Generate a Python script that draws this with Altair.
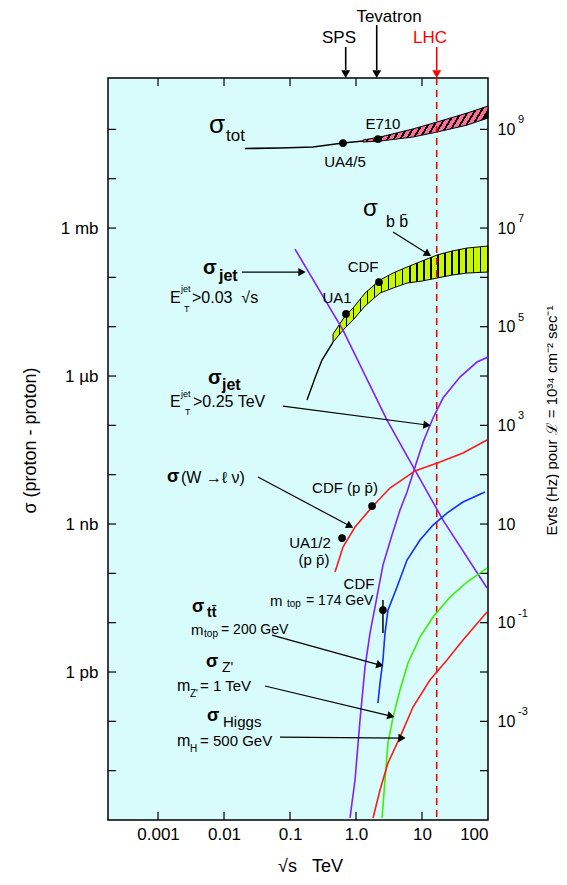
import altair as alt
import pandas as pd

FONT = "Liberation Sans"
W, H = 380, 742

# ---- scales: sqrt(s) in TeV (x), cross-section in mb (y) ----
X_DOMAIN = [1.746e-4, 100.0]
Y_DOMAIN = [1e-12, 1100.0]

# ---- sigma_tot ----
TOT_LINE_X = [0.0208, 0.0705, 0.223, 0.635, 1.28]
TOT_LINE_Y = [40.9, 41.9, 43.9, 52.9, 58.0]
TOT_BAND_X = [1.28, 2.31, 7.31, 16.9, 48.1, 100.0]
TOT_BAND_HI = [60.8, 70.0, 102.0, 141.0, 214.0, 297.0]
TOT_BAND_LO = [55.4, 58.0, 70.0, 88.3, 122.0, 170.0]

# ---- sigma_bb ----
BB_LINE_X = [0.181, 0.239, 0.305, 0.449]
BB_LINE_Y = [3.26e-4, 9.10e-4, 2.11e-3, 4.89e-3]
BB_BAND_X = [0.449, 0.681, 0.901, 1.37, 2.31, 3.64, 5.93, 10.0, 16.9, 28.5, 48.1, 100.0]
BB_BAND_HI = [7.10e-3, 0.01644, 0.0239, 0.0481, 0.0883, 0.1224, 0.1619, 0.2143, 0.2836, 0.342, 0.393, 0.4315]
BB_BAND_LO = [4.89e-3, 9.39e-3, 0.01365, 0.0262, 0.0481, 0.0608, 0.0767, 0.0843, 0.0969, 0.1115, 0.1224, 0.1283]

# ---- sigma_jet (E_T > 0.03 sqrt s) ----
JET1_X = [0.119, 0.635, 2.95, 7.83, 20.8, 96.6]
JET1_Y = [0.375, 8.55e-3, 1.28e-4, 1.24e-5, 1.20e-6, 5.04e-8]

# ---- sigma_jet (E_T > 0.25 TeV) ----
JET2_X = [0.811, 0.966, 1.15, 1.37, 1.63, 1.94, 2.56, 3.51, 4.64, 5.93, 7.83, 10.4, 14.7, 20.8, 37.6, 68.1, 100.0]
JET2_Y = [1.10e-12, 6.46e-12, 1.06e-10, 1.26e-9, 6.17e-9, 2.07e-8, 1.47e-7, 5.98e-7, 1.92e-6, 4.45e-6,
          1.43e-5, 4.59e-5, 1.41e-4, 3.58e-4, 9.53e-4, 1.92e-3, 2.43e-3]

# ---- sigma(W -> l nu) ----
W_X = [0.481, 0.635, 0.966, 1.75, 3.27, 7.83, 18.7, 41.8, 96.6]
W_Y = [1.06e-7, 3.41e-7, 8.69e-7, 2.21e-6, 5.36e-6, 1.19e-5, 1.80e-5, 2.75e-5, 5.04e-5]

# ---- sigma_ttbar ----
TT_X = [2.15, 2.31, 2.56, 2.75, 3.05, 4.18, 5.93, 9.33, 14.7, 23.9, 41.8, 90.1]
TT_Y = [2.35e-10, 5.97e-10, 1.75e-9, 6.17e-9, 1.80e-8, 5.28e-8, 1.86e-7, 4.73e-7, 9.53e-7, 1.67e-6, 2.79e-6, 4.45e-6]

# ---- sigma_Z' ----
ZP_X = [2.48, 2.75, 3.05, 3.64, 4.64, 6.14, 9.33, 14.7, 26.6, 48.1, 96.6]
ZP_Y = [1.10e-12, 6.46e-12, 3.63e-11, 1.22e-10, 4.31e-10, 1.52e-9, 5.12e-9, 1.30e-8, 3.31e-8, 6.67e-8, 1.28e-7]

# ---- sigma_Higgs ----
HG_X = [1.81, 2.31, 3.05, 4.64, 7.31, 13.2, 23.9, 41.8, 96.6]
HG_Y = [1.10e-12, 4.05e-12, 1.43e-11, 4.80e-11, 1.95e-10, 6.88e-10, 1.75e-9, 4.45e-9, 1.64e-8]

# ---- measurements ----
PT_X = [0.635, 2.15, 0.705, 2.23, 0.614, 1.75, 2.56]
PT_Y = [52.9, 63.7, 0.0181, 0.0804, 5.20e-7, 2.31e-6, 1.80e-8]
ERR_X = [2.56]
ERR_HI = [2.88e-8]
ERR_LO = [6.17e-9]

LHC_X = [16.7]

# ---- axis values / tick labels ----
X_LABEL_VALUES = [0.001, 0.01, 0.1, 1, 10, 100]
X_TICKS = [0.001, 0.01, 0.1, 1, 10]
Y_TICKS = [1e2, 1e1, 1, 1e-1, 1e-2, 1e-3, 1e-4, 1e-5, 1e-6, 1e-7, 1e-8, 1e-9, 1e-10, 1e-11]
LEFT_VALUES = [1, 1e-3, 1e-6, 1e-9]
RIGHT_VALUES = [100, 1, 1e-2, 1e-4, 1e-6, 1e-8, 1e-10]
RIGHT_EXP = ["9", "7", "5", "3", "", "-1", "-3"]

# ---- annotation arrows ----
AR_X1 = [0.01874, 3.64, 0.0783, 0.0327, 0.0534, 0.0418, 0.0705]
AR_Y1 = [0.128, 0.830, 2.46e-4, 8.96e-6, 5.61e-9, 5.20e-10, 4.80e-11]
AR_X2 = [0.152, 12.3, 11.9, 0.811, 2.31, 3.39, 4.98]
AR_Y2 = [0.128, 0.297, 1.016e-4, 9.10e-7, 1.38e-9, 1.28e-10, 4.58e-11]
AR_ANGLE = [90, 122, 97.5, 118, 105.5, 103.4, 90.5]

TA_X = [0.698, 2.06, 16.7]
TA_Y1 = [4670, 13000, 4670]
TA_Y2 = [1596, 1596, 1596]
TA_HEAD = [1324, 1324, 1324]
TA_COLOR = ["black", "black", "red"]

# ---- annotation texts ----
NL_TEXT = ["σ", "tot", "σ", "b b\u0304", "E", "jet", "T", ">0.03\u00a0\u00a0√s", "E", "jet", "T", ">0.25 TeV",
           "(W →ℓ ν)", "m", "top", "= 174 GeV", "m", "top", "= 200 GeV", "Z'", "m", "Z'", "= 1 TeV",
           "Higgs", "m", "H", "= 500 GeV"]
NL_X = [5.93e-3, 0.01072, 1.28, 2.85, 1.52e-3, 2.23e-3, 2.48e-3, 3.27e-3, 1.52e-3, 2.23e-3, 2.57e-3, 3.39e-3,
        2.23e-3, 0.0498, 0.0901, 0.175, 3.16e-3, 4.98e-3, 9.01e-3, 9.33e-3, 1.94e-3, 3.05e-3, 4.33e-3,
        9.66e-3, 1.94e-3, 3.05e-3, 4.33e-3]
NL_Y = [122, 73.3, 2.43, 1.32, 0.0381, 0.0580, 0.0228, 0.0381, 2.97e-4, 4.31e-4, 1.86e-4, 2.97e-4,
        8.55e-6, 2.75e-8, 2.39e-8, 2.75e-8, 7.09e-9, 5.89e-9, 7.09e-9, 1.20e-9, 5.20e-10, 3.57e-10, 5.20e-10,
        9.68e-11, 3.99e-11, 2.74e-11, 3.99e-11]
NL_SIZE = [26, 17, 24, 16, 16, 9, 9, 16, 16, 9, 9, 16,
           16, 15, 10, 14, 15, 10, 14, 14, 16, 10, 15,
           15, 16, 10, 15]

BL_TEXT = ["σ", "jet", "σ", "jet", "σ", "σ", "tt\u0304", "σ", "σ"]
BL_X = [4.81e-3, 8.40e-3, 5.72e-3, 9.33e-3, 1.37e-3, 3.27e-3, 5.52e-3, 5.33e-3, 5.52e-3]
BL_Y = [0.1545, 0.1064, 9.10e-4, 6.56e-4, 8.96e-6, 2.07e-8, 1.57e-8, 1.59e-9, 1.28e-10]
BL_SIZE = [20, 16, 20, 16, 18, 18, 14, 18, 18]

CT_TEXT = ["E710", "UA4/5", "CDF", "UA1", "CDF (p p\u0304)", "UA1/2", "(p p\u0304)", "CDF", "SPS", "Tevatron", "LHC"]
CT_X = [2.56, 0.681, 1.28, 0.515, 0.681, 0.201, 0.231, 1.11, 0.552, 3.16, 13.2]
CT_Y = [128, 21.8, 0.162, 0.0381, 5.36e-6, 4.11e-7, 1.86e-7, 6.1e-8, 7110, 18900, 7110]
CT_SIZE = [15, 15, 15, 15, 15, 15, 15, 15, 17, 17, 17]
CT_COLOR = ["black"] * 10 + ["red"]

# ---- colours ----
BG = "#d8fbfb"
PURPLE = "#8020ff"
BLUE = "#1030ff"
RED = "#ff1a1a"
GREEN = "#3cf000"
BB_FILL = "#c8f800"
TOT_FILL = "#ff6b9d"

XS = alt.Scale(type="log", domain=X_DOMAIN, nice=False)
YS = alt.Scale(type="log", domain=Y_DOMAIN, nice=False)


def ex(f, axis=None):
    return alt.X(f"{f}:Q", scale=XS, axis=axis)


def ey(f, axis=None):
    return alt.Y(f"{f}:Q", scale=YS, axis=axis)


def hatch(bg, fg, n, frac):
    stops = []
    for i in range(n):
        a = i / n
        b = (i + 1 - frac) / n
        c = (i + 1) / n
        stops += [alt.GradientStop(color=bg, offset=a), alt.GradientStop(color=bg, offset=b),
                  alt.GradientStop(color=fg, offset=b), alt.GradientStop(color=fg, offset=c)]
    return stops


def curve(xs, ys, color, width=1.6):
    return alt.Chart(pd.DataFrame({"x": xs, "y": ys})).mark_line(
        color=color, strokeWidth=width, clip=True).encode(x=ex("x"), y=ey("y"))


layers = []

# axes carriers (tick rules, inward)
layers.append(alt.Chart(pd.DataFrame({"v": X_TICKS})).mark_rule(color="black", strokeWidth=1.2).encode(
    x=ex("v", axis=alt.Axis(orient="bottom", values=X_LABEL_VALUES,
                             labelExpr="datum.value < 0.005 ? '0.001' : datum.value < 0.05 ? '0.01' : datum.value < 0.5 ? '0.1' : datum.value < 5 ? '1.0' : datum.value < 50 ? '10' : '100'",
                             labelFontSize=17, labelPadding=6, labelFlush=True,
                             title="√s\u00a0\u00a0\u00a0TeV", titleFontSize=18, titleX=202, titleY=46,
                             titleAlign="center", titleBaseline="middle")),
    y=alt.value(H), y2=alt.value(H - 8)))
layers.append(alt.Chart(pd.DataFrame({"v": X_TICKS})).mark_rule(color="black", strokeWidth=1.2).encode(
    x=ex("v"), y=alt.value(0), y2=alt.value(8)))
layers.append(alt.Chart(pd.DataFrame({"v": Y_TICKS})).mark_rule(color="black", strokeWidth=1.2).encode(
    y=ey("v", axis=alt.Axis(orient="left", values=LEFT_VALUES,
                             labelExpr="datum.value > 0.5 ? '1 mb' : datum.value > 5e-4 ? '1 µb' : datum.value > 5e-7 ? '1 nb' : '1 pb'",
                             labelFontSize=17, labelPadding=10,
                             title="σ (proton - proton)", titleFontSize=18, titleAngle=270,
                             titleX=-78, titleY=362, titleAlign="center", titleBaseline="middle")),
    x=alt.value(0), x2=alt.value(8)))
layers.append(alt.Chart(pd.DataFrame({"v": Y_TICKS})).mark_rule(color="black", strokeWidth=1.2).encode(
    y=ey("v", axis=alt.Axis(orient="right", values=RIGHT_VALUES, labelExpr="'10'",
                             labelFontSize=16, labelPadding=9, labelAlign="left",
                             title="Evts (Hz) pour  ℒ = 10³⁴ cm⁻² sec⁻¹", titleFontSize=15,
                             titleAngle=270, titleX=63, titleY=342, titleAlign="center",
                             titleBaseline="middle")),
    x=alt.value(W - 8), x2=alt.value(W)))
layers.append(alt.Chart(pd.DataFrame({"v": RIGHT_VALUES, "t": RIGHT_EXP})).mark_text(
    align="left", baseline="middle", fontSize=11, dy=-9, font=FONT, color="black").encode(
    x=alt.value(410), y=ey("v"), text="t:N"))

# sigma_tot
layers.append(curve(TOT_LINE_X, TOT_LINE_Y, "black", 1.6))
layers.append(alt.Chart(pd.DataFrame({"x": TOT_BAND_X, "hi": TOT_BAND_HI, "lo": TOT_BAND_LO})).mark_area(
    fill=alt.LinearGradient(gradient="linear", stops=hatch(TOT_FILL, "black", 20, 0.35),
                            x1=0, y1=0, x2=1, y2=0.17),
    stroke="black", strokeWidth=1, opacity=1).encode(x=ex("x"), y=ey("hi"), y2="lo:Q"))

# sigma_bb
layers.append(curve(BB_LINE_X, BB_LINE_Y, "black", 1.4))
layers.append(alt.Chart(pd.DataFrame({"x": BB_BAND_X, "hi": BB_BAND_HI, "lo": BB_BAND_LO})).mark_area(
    fill=alt.LinearGradient(gradient="linear", stops=hatch(BB_FILL, "black", 22, 0.2),
                            x1=0, y1=0, x2=1, y2=0),
    stroke="black", strokeWidth=1, opacity=1).encode(x=ex("x"), y=ey("hi"), y2="lo:Q"))

# LHC dashed line
layers.append(alt.Chart(pd.DataFrame({"x": LHC_X})).mark_rule(
    color="red", strokeWidth=1.6, strokeDash=[7, 5]).encode(x=ex("x"), y=alt.value(0), y2=alt.value(H)))

# curves
layers.append(curve(JET1_X, JET1_Y, PURPLE))
layers.append(curve(JET2_X, JET2_Y, PURPLE))
layers.append(curve(W_X, W_Y, RED))
layers.append(curve(TT_X, TT_Y, BLUE))
layers.append(curve(ZP_X, ZP_Y, GREEN))
layers.append(curve(HG_X, HG_Y, RED))

# measurements
layers.append(alt.Chart(pd.DataFrame({"x": ERR_X, "hi": ERR_HI, "lo": ERR_LO})).mark_rule(
    color="black", strokeWidth=1.5).encode(x=ex("x"), y=ey("hi"), y2="lo:Q"))
layers.append(alt.Chart(pd.DataFrame({"x": PT_X, "y": PT_Y})).mark_point(
    filled=True, shape="circle", size=60, color="black", opacity=1).encode(x=ex("x"), y=ey("y")))

# arrows
layers.append(alt.Chart(pd.DataFrame({"x1": AR_X1, "y1": AR_Y1, "x2": AR_X2, "y2": AR_Y2})).mark_rule(
    color="black", strokeWidth=1.2).encode(x=ex("x1"), y=ey("y1"), x2="x2:Q", y2="y2:Q"))
layers.append(alt.Chart(pd.DataFrame({"x": AR_X2, "y": AR_Y2, "a": AR_ANGLE})).mark_point(
    filled=True, shape="triangle-up", size=70, color="black", opacity=1).encode(
    x=ex("x"), y=ey("y"), angle=alt.Angle("a:Q", scale=None)))
layers.append(alt.Chart(pd.DataFrame({"x": TA_X, "y1": TA_Y1, "y2": TA_Y2, "c": TA_COLOR})).mark_rule(
    strokeWidth=1.6).encode(x=ex("x"), y=ey("y1"), y2="y2:Q", color=alt.Color("c:N", scale=None)))
layers.append(alt.Chart(pd.DataFrame({"x": TA_X, "y": TA_HEAD, "c": TA_COLOR})).mark_point(
    filled=True, shape="triangle-down", size=80, opacity=1).encode(
    x=ex("x"), y=ey("y"), color=alt.Color("c:N", scale=None)))

# texts
layers.append(alt.Chart(pd.DataFrame({"t": NL_TEXT, "x": NL_X, "y": NL_Y, "s": NL_SIZE})).mark_text(
    align="left", baseline="middle", font=FONT, color="black").encode(
    x=ex("x"), y=ey("y"), text="t:N", size=alt.Size("s:Q", scale=None)))
layers.append(alt.Chart(pd.DataFrame({"t": BL_TEXT, "x": BL_X, "y": BL_Y, "s": BL_SIZE})).mark_text(
    align="left", baseline="middle", font=FONT, fontWeight="bold", color="black").encode(
    x=ex("x"), y=ey("y"), text="t:N", size=alt.Size("s:Q", scale=None)))
layers.append(alt.Chart(pd.DataFrame({"t": CT_TEXT, "x": CT_X, "y": CT_Y, "s": CT_SIZE, "c": CT_COLOR})).mark_text(
    align="center", baseline="middle", font=FONT).encode(
    x=ex("x"), y=ey("y"), text="t:N", size=alt.Size("s:Q", scale=None), color=alt.Color("c:N", scale=None)))

chart = alt.layer(*layers).resolve_axis(x="independent", y="independent").properties(
    width=W, height=H,
    autosize=alt.AutoSizeParams(type="none"),
    padding={"left": 100, "top": 70, "right": 71, "bottom": 57},
    background="white",
).configure_view(stroke="black", strokeWidth=1.5, fill=BG).configure_axis(
    grid=False, ticks=False, domain=False, labelFont=FONT, titleFont=FONT,
    labelColor="black", titleColor="black", titleFontWeight="normal")

chart.save("out.html", embed_options={"renderer": "svg", "actions": False})
